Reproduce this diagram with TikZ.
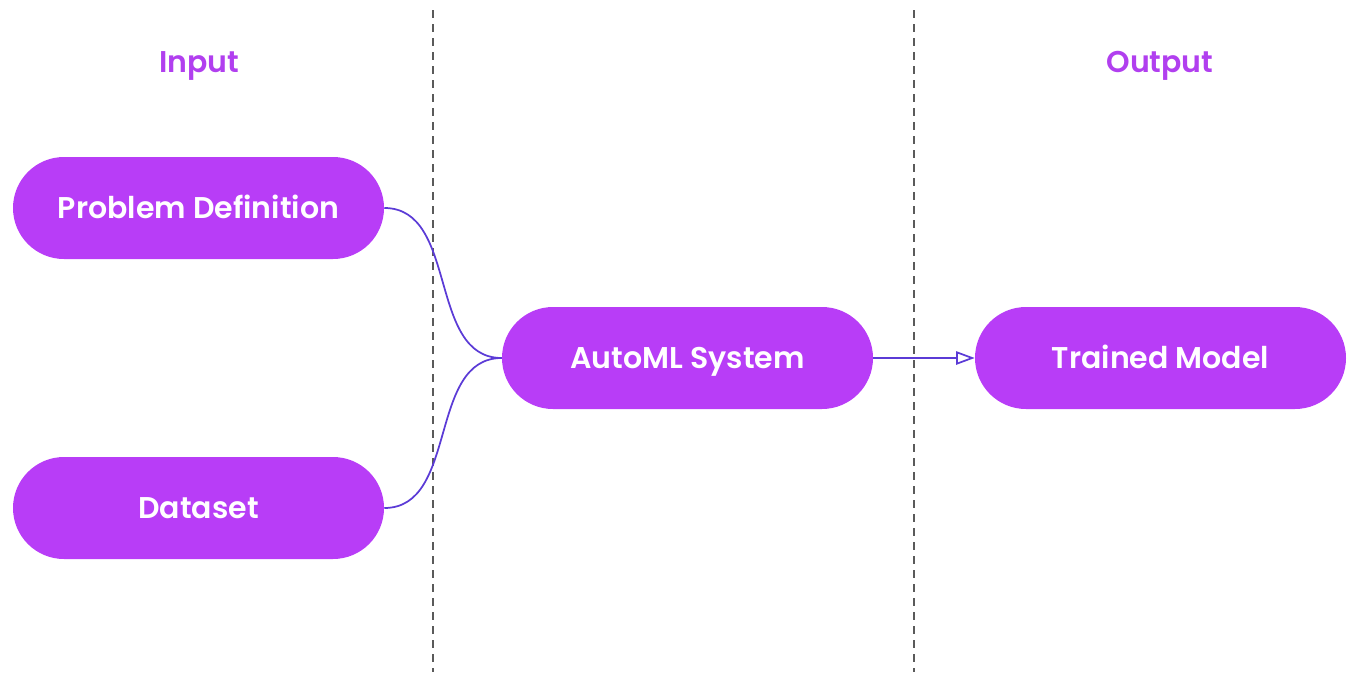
\documentclass[tikz,border=0pt]{standalone}
\usepackage{fontspec}
\setmainfont{Poppins}[BoldFont={Poppins SemiBold}]
\usetikzlibrary{arrows.meta}
\definecolor{boxpurple}{HTML}{B83DF7}
\definecolor{labelpurple}{HTML}{B13FEF}
\definecolor{linkblue}{HTML}{5B3BD6}
\definecolor{dashgray}{HTML}{5A5A5A}
\tikzset{
  pill/.style={draw=none, fill=boxpurple, rounded corners=38.25pt, minimum width=278.25pt, minimum height=76.5pt, text=white, font=\fontsize{22.5}{26}\selectfont\bfseries, inner sep=0pt, text height=15.75pt, text depth=0pt},
  header/.style={text=labelpurple, font=\fontsize{22.5}{26}\selectfont\bfseries, inner sep=0pt, text height=15.75pt, text depth=0pt},
  divider/.style={draw=dashgray, line width=1.1pt, dash pattern=on 6pt off 4.5pt},
  link/.style={draw=linkblue, line width=1.3pt},
}
\begin{document}
\begin{tikzpicture}[x=0.75pt, y=-0.75pt]
\useasboundingbox (0,0) rectangle (1361,682);
\coordinate (d1t) at (433,10);
\coordinate (d1b) at (433,672);
\coordinate (d2t) at (914,10);
\coordinate (d2b) at (914,672);
\draw[divider] (d1t) -- (d1b);
\draw[divider] (d2t) -- (d2b);
\node[header] (input) at (199,62) {Input};
\node[header] (output) at (1160,62) {Output};
\node[pill] (pd) at (198.5,208) {Problem Definition};
\node[pill] (ds) at (198.5,508) {Dataset};
\node[pill] (auto) at (687.5,358) {AutoML System};
\node[pill] (tm) at (1160.5,358) {Trained Model};
\draw[link] (pd.east) to[out=0,in=180] (auto.west);
\draw[link] (ds.east) to[out=0,in=180] (auto.west);
\draw[link, -{Triangle[open, length=14pt, width=10pt]}] (auto.east) -- (tm.west);
\end{tikzpicture}
\end{document}
